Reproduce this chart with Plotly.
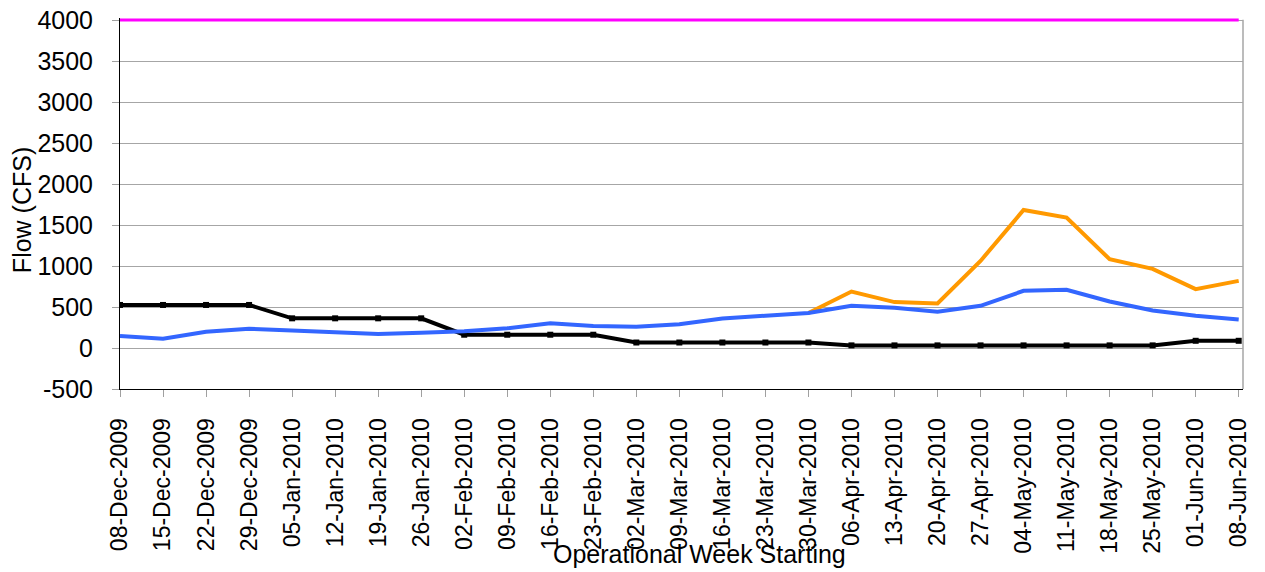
import plotly.graph_objects as go

weeks = ["08-Dec-2009", "15-Dec-2009", "22-Dec-2009", "29-Dec-2009", "05-Jan-2010",
         "12-Jan-2010", "19-Jan-2010", "26-Jan-2010", "02-Feb-2010", "09-Feb-2010",
         "16-Feb-2010", "23-Feb-2010", "02-Mar-2010", "09-Mar-2010", "16-Mar-2010",
         "23-Mar-2010", "30-Mar-2010", "06-Apr-2010", "13-Apr-2010", "20-Apr-2010",
         "27-Apr-2010", "04-May-2010", "11-May-2010", "18-May-2010", "25-May-2010",
         "01-Jun-2010", "08-Jun-2010"]

black_vals = [525, 525, 525, 525, 362, 362, 362, 362, 162, 162, 162, 162, 67, 67, 67,
              67, 67, 32, 32, 32, 32, 32, 32, 32, 32, 88, 88]
blue_vals = [146, 113, 199, 235, 215, 191, 171, 187, 203, 240, 301, 268, 260, 290, 360,
             393, 426, 515, 491, 442, 515, 697, 710, 568, 458, 393, 349]
orange_vals = [None] * 16 + [426, 689, 560, 543, 1062, 1683, 1590, 1083, 965, 718, 819]
limit_vals = [4000] * 27

y_ticks = [-500, 0, 500, 1000, 1500, 2000, 2500, 3000, 3500, 4000]
y_tick_text = ["-500", "0", "500", "1000", "1500", "2000", "2500", "3000", "3500", "4000"]

xi = list(range(len(weeks)))
FONT = "Liberation Sans, Arial, sans-serif"

fig = go.Figure()
fig.add_trace(go.Scatter(x=xi, y=black_vals, mode="lines+markers",
                         line=dict(color="#000000", width=4),
                         marker=dict(symbol="square", size=6, color="#000000"),
                         showlegend=False))
fig.add_trace(go.Scatter(x=xi, y=orange_vals, mode="lines",
                         line=dict(color="#ff9900", width=4), showlegend=False))
fig.add_trace(go.Scatter(x=xi, y=blue_vals, mode="lines",
                         line=dict(color="#3366ff", width=4), showlegend=False))
fig.add_trace(go.Scatter(x=xi, y=limit_vals, mode="lines",
                         line=dict(color="#ff00ff", width=3), showlegend=False))

# page body has an 8px default margin, so the figure is sized 1257x564
fig.update_layout(
    width=1257, height=564,
    margin=dict(l=112, r=22, t=10, b=183),
    paper_bgcolor="white", plot_bgcolor="white",
    font=dict(family=FONT, color="#000000"),
    showlegend=False,
)
fig.update_xaxes(
    range=[0, 26.1], tickmode="array", tickvals=xi, ticktext=weeks,
    tickangle=-90, tickfont=dict(size=23, family=FONT),
    ticks="outside", ticklen=7, tickcolor="#a0a0a0",
    showgrid=False, zeroline=False,
    showline=True, linecolor="#000000", linewidth=1,
    ticklabelstandoff=12, automargin=False,
)
fig.update_yaxes(
    range=[-500, 4025], tickmode="array", tickvals=y_ticks, ticktext=y_tick_text,
    tickfont=dict(size=25, family=FONT),
    ticks="outside", ticklen=7, tickcolor="#a0a0a0",
    showgrid=True, gridcolor="#a6a6a6", gridwidth=1,
    zeroline=False, showline=True, linecolor="#000000", linewidth=1,
    ticklabelstandoff=14, automargin=False, ticklabeloverflow="allow",
)
# right border of plot area
fig.add_shape(type="line", xref="paper", yref="paper", x0=1, x1=1, y0=0, y1=0.995,
              line=dict(color="#a6a6a6", width=1.5))

fig.add_annotation(text="Operational Week Starting", xref="paper", yref="paper",
                   x=0.516, y=-0.444, xanchor="center", yanchor="middle",
                   showarrow=False, font=dict(size=25, family=FONT))
fig.add_annotation(text="Flow (CFS)", xref="paper", yref="paper",
                   x=-0.0873, y=0.482, xanchor="center", yanchor="middle",
                   textangle=-90, showarrow=False, font=dict(size=25, family=FONT))

fig.write_html("out.html")
